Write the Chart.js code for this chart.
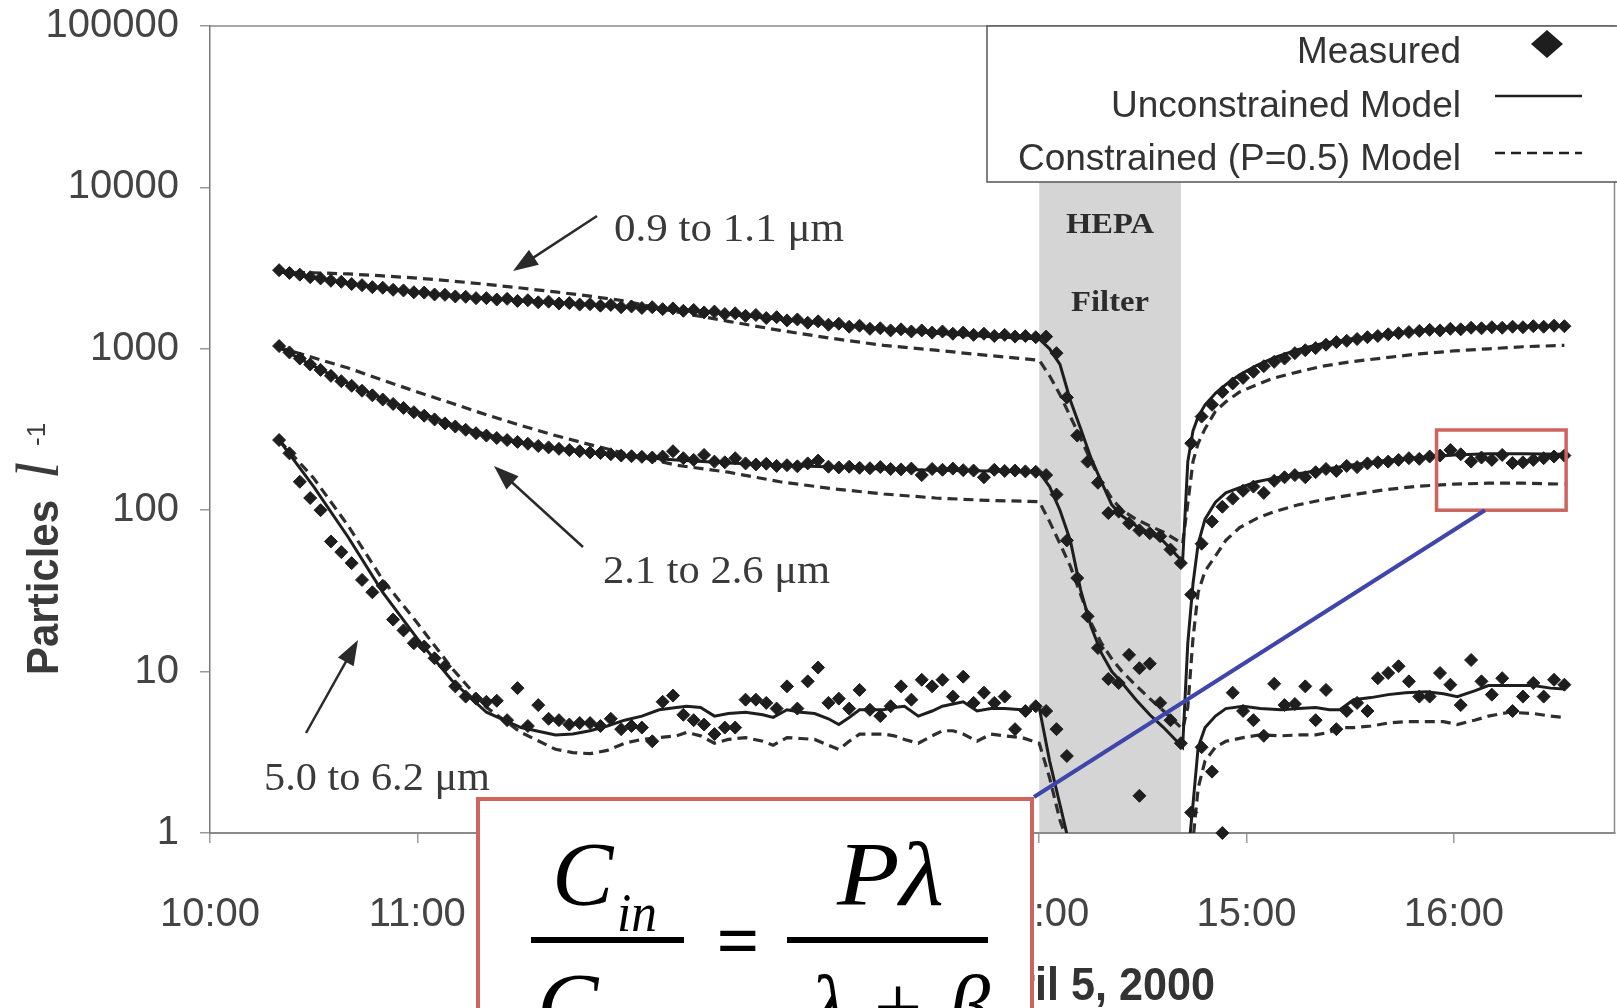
<!DOCTYPE html>
<html>
<head>
<meta charset="utf-8">
<title>Particles, April 5, 2000</title>
<script src="https://cdn.jsdelivr.net/npm/chart.js@4.4.1/dist/chart.umd.min.js"></script>
<style>
  body { margin: 0; background: #fff; overflow: hidden; }
  canvas { display: block; }
</style>
</head>
<body>
<canvas id="particles" width="1622" height="1008"></canvas>
<script>
// x values are minutes after midnight (600 = 10:00)
const hourTicks = [600, 660, 720, 780, 840, 900, 960]
const hourLabels = ['10:00', '11:00', '12:00', '13:00', '14:00', '15:00', '16:00']
const yTicks = [1, 10, 100, 1000, 10000, 100000]
const yTickLabels = ['1', '10', '100', '1000', '10000', '100000']
const hepaOn = 840
const hepaOff = 881

// measured counts, one every 3 minutes
const measuredTimes = [
  620, 623, 626, 629, 632, 635, 638, 641, 644, 647, 650, 653, 656, 659, 662, 665, 668, 671, 674, 677,
  680, 683, 686, 689, 692, 695, 698, 701, 704, 707, 710, 713, 716, 719, 722, 725, 728, 731, 734, 737,
  740, 743, 746, 749, 752, 755, 758, 761, 764, 767, 770, 773, 776, 779, 782, 785, 788, 791, 794, 797,
  800, 803, 806, 809, 812, 815, 818, 821, 824, 827, 830, 833, 836, 839, 842, 845, 848, 851, 854, 857,
  860, 863, 866, 869, 872, 875, 878, 881, 884, 887, 890, 893, 896, 899, 902, 905, 908, 911, 914, 917,
  920, 923, 926, 929, 932, 935, 938, 941, 944, 947, 950, 953, 956, 959, 962, 965, 968, 971, 974, 977,
  980, 983, 986, 989, 992
]
const smallMeasured = [
  3070, 2950, 2880, 2780, 2730, 2640, 2600, 2520, 2480, 2410,
  2390, 2320, 2300, 2240, 2230, 2170, 2160, 2110, 2100, 2060,
  2060, 2020, 2040, 1980, 2000, 1940, 1960, 1910, 1920, 1880,
  1890, 1850, 1870, 1810, 1830, 1790, 1810, 1760, 1780, 1720,
  1740, 1680, 1700, 1640, 1660, 1600, 1620, 1550, 1570, 1500,
  1520, 1450, 1480, 1410, 1430, 1370, 1390, 1330, 1340, 1300,
  1320, 1280, 1300, 1260, 1280, 1240, 1260, 1220, 1240, 1200,
  1220, 1190, 1200, 1180, 1190, 940, 500, 290, 200, 148,
  96, 98, 83, 75, 72, 69, 57, 47, 260, 380,
  450, 540, 610, 660, 720, 780, 830, 870, 940, 980,
  1010, 1060, 1100, 1120, 1150, 1180, 1200, 1230, 1250, 1270,
  1290, 1310, 1300, 1330, 1320, 1350, 1340, 1360, 1350, 1370,
  1360, 1380, 1370, 1390, 1380
]
const midMeasured = [
  1040, 950, 870, 800, 740, 680, 630, 590, 550, 515,
  485, 455, 430, 405, 385, 365, 345, 330, 315, 300,
  290, 280, 272, 265, 258, 250, 245, 240, 236, 232,
  228, 226, 222, 218, 216, 214, 212, 215, 232, 210,
  205, 220, 200, 198, 210, 195, 192, 194, 188, 190,
  187, 195, 203, 186, 184, 186, 183, 182, 185, 180,
  179, 181, 165, 180, 178, 181, 177, 176, 160, 178,
  175, 176, 174, 173, 165, 125, 65, 38, 22, 14,
  9.0, 8.5, 12.7, 10.5, 11.2, 6.4, 5.0, 3.6, 30, 62,
  85, 105, 118, 132, 140, 128, 152, 160, 165, 160,
  172, 180, 175, 188, 185, 195, 198, 200, 205, 210,
  208, 215, 218, 236, 222, 200, 212, 205, 220, 196,
  198, 205, 210, 215, 218
]
const largeMeasured = [
  272, 225, 150, 119, 100, 64, 55, 47, 37, 31,
  34, 21, 18, 15, 14.3, 12.1, 10.8, 8.1, 7.0, 6.8,
  6.5, 6.6, 5.0, 7.9, 4.6, 6.2, 5.1, 5.0, 4.7, 4.8,
  4.8, 4.6, 5.1, 4.4, 4.6, 4.5, 3.7, 6.5, 7.1, 5.4,
  5.0, 4.7, 4.1, 4.5, 4.5, 6.7, 6.7, 6.4, 5.9, 8.1,
  5.9, 8.7, 10.6, 6.4, 6.8, 5.9, 7.7, 5.8, 5.3, 6.1,
  8.1, 6.7, 8.9, 8.1, 8.9, 7.0, 9.3, 6.4, 7.4, 6.4,
  7.0, 4.4, 5.7, 6.1, 5.7, 4.4, 3.0, null, null, null,
  null, null, null, 1.7, null, null, null, null, 1.34, 3.4,
  2.4, 1.0, 7.4, 5.7, 5.0, 4.0, 8.4, 6.2, 6.3, 8.1,
  5.0, 7.7, 4.4, 5.7, 6.4, 5.7, 9.1, 9.8, 10.8, 8.7,
  7.0, 7.0, 9.8, 8.3, 6.2, 11.8, 8.7, 7.2, 9.1, 5.7,
  7.0, 8.5, 7.0, 8.9, 8.3
]

// model curves for 0.9-1.1 and 2.1-2.6 um
const modelTimes = [
  620, 630, 640, 650, 660, 670, 680, 690, 700, 710, 720, 735, 750, 765, 780, 795, 810, 825, 840,
  843, 846, 849, 852, 855, 858, 861, 864, 868, 872, 876, 881.5,
  883, 884.5, 886, 888, 891, 894, 898, 903, 908, 915, 922, 930, 940, 950, 960, 970, 980, 992
]
const smallFree = [
  3000, 2760, 2540, 2370, 2240, 2130, 2050, 1980, 1920, 1870, 1820, 1740, 1640, 1520, 1410, 1320, 1250, 1190, 1150,
  1000, 800, 480, 320, 210, 150, 108, 92, 80, 72, 64, 48,
  200, 310, 380, 450, 530, 600, 690, 790, 880, 990, 1080, 1150, 1230, 1290, 1330, 1360, 1380, 1390
]
const smallFixed = [
  3000, 2960, 2910, 2830, 2740, 2630, 2510, 2380, 2250, 2120, 1980, 1690, 1480, 1300, 1160, 1050, 980, 910, 850,
  680, 520, 380, 280, 200, 150, 118, 100, 88, 80, 73, 62,
  110, 200, 260, 320, 410, 470, 540, 600, 660, 720, 780, 830, 880, 930, 970, 1000, 1030, 1050
]
const midFree = [
  1020, 780, 610, 490, 405, 340, 295, 262, 240, 226, 216, 205, 196, 190, 185, 180, 177, 175, 172,
  140, 100, 65, 32, 19, 13, 10, 8.5, 6.7, 5.4, 4.5, 3.4,
  15, 35, 62, 88, 112, 128, 138, 150, 158, 168, 178, 190, 203, 212, 220, 224, 224, 222
]
const midFixed = [
  1020, 880, 760, 640, 540, 460, 390, 335, 290, 255, 225, 190, 172, 150, 136, 126, 119, 115, 113,
  85, 62, 45, 30, 20, 15, 12, 10, 8.2, 6.8, 5.7, 4.4,
  6, 16, 31, 42, 52, 65, 78, 89, 98, 108, 116, 124, 134, 141, 145, 147, 147, 145
]

// model curves for 5.0-6.2 um (null = curve below the axis)
const largeModelTimes = [
  620, 630, 640, 650, 660, 670, 680, 690, 700, 705, 710, 715, 720, 725, 730, 735, 738, 742, 746, 750,
  755, 760, 763, 767, 771, 775, 779, 782, 785, 788, 792, 795, 798, 801, 805, 809, 812, 815, 818, 822,
  826, 830, 835, 840, 843, 846, 849, 865,
  883.5, 884.5, 886, 888, 891, 894, 899, 904, 910, 915, 920, 924, 927, 931, 936, 941, 946, 952, 957, 961,
  966, 970, 976, 983, 988, 992
]
const largeFree = [
  272, 140, 68, 31, 16, 8.8, 5.6, 4.5, 4.05, 4.1, 4.3, 4.6, 5.0, 5.3, 5.8, 6.0, 6.1, 6.0, 5.3, 5.5,
  5.6, 5.4, 5.2, 5.8, 5.6, 5.5, 5.1, 4.7, 5.2, 5.8, 5.8, 5.8, 6.0, 6.1, 5.3, 5.7, 6.1, 6.3, 6.5, 5.7,
  5.9, 5.9, 5.8, 6.0, 2.8, 1.5, 0.8, null,
  0.9, 1.5, 3.4, 4.5, 5.3, 5.9, 6.1, 5.9, 5.8, 5.9, 6.0, 5.8, 5.8, 6.7, 6.9, 7.2, 7.4, 7.5, 7.3, 7.0,
  7.6, 8.2, 8.2, 8.2, 7.9, 7.8
]
const largeFixed = [
  272, 158, 80, 37, 20, 10.5, 6.0, 4.2, 3.3, 3.15, 3.1, 3.25, 3.6, 3.8, 3.9, 4.0, 4.2, 4.0, 3.6, 3.8,
  3.9, 3.7, 3.5, 3.9, 3.85, 3.8, 3.5, 3.3, 3.7, 4.1, 4.1, 4.1, 4.0, 3.8, 3.6, 4.0, 4.3, 4.3, 4.1, 3.7,
  4.1, 4.0, 3.9, 3.6, 2.2, 1.2, 0.8, null,
  0.4, 0.9, 1.9, 2.8, 3.4, 3.7, 3.9, 4.06, 4.0, 4.05, 4.06, 4.2, 4.5, 4.5, 4.6, 4.8, 4.9, 4.9, 4.9, 4.7,
  5.0, 5.3, 5.6, 5.5, 5.3, 5.2
]

const sizeLabels = ['0.9 to 1.1 \u03bcm', '2.1 to 2.6 \u03bcm', '5.0 to 6.2 \u03bcm']
const legendLabels = ['Measured', 'Unconstrained Model', 'Constrained (P=0.5) Model']

const ink = '#1e1e1e'
const boxRed = '#cd645d'
const lineBlue = '#3e45ab'
const serif = '"Liberation Serif", "Times New Roman", serif'
const sans = '"Liberation Sans", Arial, sans-serif'

function hasFont(name) {
  let c = document.createElement('canvas').getContext('2d')
  c.font = '80px monospace'
  let base = c.measureText('100000 Particles').width
  c.font = '80px "' + name + '", monospace'
  return c.measureText('100000 Particles').width !== base
}
const narrow = hasFont('Liberation Sans Narrow')
const tickFamily = narrow ? '"Liberation Sans Narrow", ' + sans : sans
const tickSize = narrow ? 47 : 40

function pts(times, values) {
  return times.map((t, i) => ({ x: t, y: values[i] }))
}

// text squeezed or stretched horizontally to a given width
function text(ctx, str, x, y, font, width, align) {
  ctx.save()
  ctx.font = font
  let w = ctx.measureText(str).width
  ctx.translate(x, y)
  if (width) ctx.scale(width / w, 1)
  ctx.textAlign = align || 'left'
  ctx.textBaseline = 'alphabetic'
  ctx.fillText(str, 0, 0)
  ctx.restore()
}

function arrow(ctx, x1, y1, x2, y2) {
  let a = Math.atan2(y2 - y1, x2 - x1)
  let len = 25, half = 9
  let c = Math.cos(a), s = Math.sin(a)
  ctx.beginPath()
  ctx.moveTo(x1, y1)
  ctx.lineTo(x2 - c * len * 0.7, y2 - s * len * 0.7)
  ctx.stroke()
  ctx.beginPath()
  ctx.moveTo(x2, y2)
  ctx.lineTo(x2 - c * len - s * half, y2 - s * len + c * half)
  ctx.lineTo(x2 - c * len + s * half, y2 - s * len - c * half)
  ctx.closePath()
  ctx.fill()
}

// keep the plot area where the figure has it, whatever the label overhang
function noOverhang(s) {
  s.paddingTop = 0
  s.paddingBottom = 0
  s.paddingLeft = 0
  s.paddingRight = 0
}

const hepaBand = {
  id: 'hepaBand',
  beforeDatasetsDraw(chart) {
    let { ctx, chartArea, scales } = chart
    let x1 = scales.x.getPixelForValue(hepaOn)
    let x2 = scales.x.getPixelForValue(hepaOff)
    ctx.save()
    ctx.fillStyle = '#d5d5d5'
    ctx.fillRect(x1, chartArea.top, x2 - x1, chartArea.bottom - chartArea.top - 1)
    ctx.restore()
  }
}

const decorations = {
  id: 'decorations',
  afterDraw(chart) {
    let { ctx, chartArea, scales } = chart
    let xs = scales.x, ys = scales.y
    ctx.save()

    // frame top and right
    ctx.strokeStyle = '#8a8a8a'
    ctx.lineWidth = 1.5
    ctx.beginPath()
    ctx.moveTo(chartArea.left, chartArea.top)
    ctx.lineTo(chartArea.right, chartArea.top)
    ctx.lineTo(chartArea.right, chartArea.bottom)
    ctx.stroke()

    // size bin labels with arrows
    ctx.fillStyle = '#3a3a3a'
    text(ctx, sizeLabels[0], 614, 241, '40px ' + serif, 230)
    text(ctx, sizeLabels[1], 603, 583, '40px ' + serif, 227)
    text(ctx, sizeLabels[2], 264, 790, '40px ' + serif, 226)
    ctx.strokeStyle = '#2a2a2a'
    ctx.fillStyle = '#2a2a2a'
    ctx.lineWidth = 2.5
    arrow(ctx, 597, 216, 513, 271)
    arrow(ctx, 583, 547, 494, 466)
    arrow(ctx, 306, 733, 358, 640)

    // HEPA filter label
    let hx = (xs.getPixelForValue(hepaOn) + xs.getPixelForValue(hepaOff)) / 2
    ctx.fillStyle = '#2c2c2c'
    text(ctx, 'HEPA', hx, 233, 'bold 30px ' + serif, 88, 'center')
    text(ctx, 'Filter', hx, 311, 'bold 30px ' + serif, 78, 'center')

    // legend
    ctx.fillStyle = '#fff'
    ctx.fillRect(987, chartArea.top, 640, 182 - chartArea.top)
    ctx.strokeStyle = '#555'
    ctx.lineWidth = 1.5
    ctx.strokeRect(987, chartArea.top, 640, 182 - chartArea.top)
    ctx.fillStyle = '#333'
    text(ctx, legendLabels[0], 1461, 63, '37px ' + sans, 164, 'right')
    text(ctx, legendLabels[1], 1461, 117, '37px ' + sans, 350, 'right')
    text(ctx, legendLabels[2], 1461, 170, '37px ' + sans, 443, 'right')
    ctx.fillStyle = ink
    ctx.beginPath()
    ctx.moveTo(1531, 44)
    ctx.lineTo(1547, 30)
    ctx.lineTo(1563, 44)
    ctx.lineTo(1547, 58)
    ctx.closePath()
    ctx.fill()
    ctx.strokeStyle = ink
    ctx.lineWidth = 2.5
    ctx.beginPath()
    ctx.moveTo(1495, 96)
    ctx.lineTo(1582, 96)
    ctx.stroke()
    ctx.setLineDash([10, 6])
    ctx.beginPath()
    ctx.moveTo(1495, 153)
    ctx.lineTo(1582, 153)
    ctx.stroke()
    ctx.setLineDash([])

    // highlighted region and pointer to the formula
    let bx1 = xs.getPixelForValue(955), bx2 = xs.getPixelForValue(992.5)
    let by1 = ys.getPixelForValue(314), by2 = ys.getPixelForValue(100)
    ctx.strokeStyle = boxRed
    ctx.lineWidth = 3.5
    ctx.strokeRect(bx1, by1, bx2 - bx1, by2 - by1)
    ctx.strokeStyle = lineBlue
    ctx.lineWidth = 4
    ctx.beginPath()
    ctx.moveTo(1034, 797)
    ctx.lineTo(xs.getPixelForValue(969), by2)
    ctx.stroke()

    // x axis title
    ctx.fillStyle = '#333'
    ctx.font = 'bold 46px ' + sans
    let sx = 180 / ctx.measureText('il 5, 2000').width
    ctx.translate(1215, 1000)
    ctx.scale(sx, 1)
    ctx.textAlign = 'right'
    ctx.fillText('April 5, 2000', 0, 0)
    ctx.setTransform(1, 0, 0, 1, 0, 0)

    // y axis title
    ctx.translate(58, 675)
    ctx.rotate(-Math.PI / 2)
    ctx.fillStyle = '#3a3a3a'
    text(ctx, 'Particles', 0, 0, 'bold 45px ' + sans, 175)
    text(ctx, 'l', 196, 0, 'italic 62px ' + serif)
    text(ctx, '-1', 229, -13, '26px ' + sans)
    ctx.setTransform(1, 0, 0, 1, 0, 0)

    // formula box
    ctx.fillStyle = '#fff'
    ctx.fillRect(476, 797, 558, 220)
    ctx.strokeStyle = boxRed
    ctx.lineWidth = 4
    ctx.strokeRect(478, 799, 554, 240)
    ctx.fillStyle = '#000'
    text(ctx, 'C', 552, 905, 'italic 92px ' + serif)
    text(ctx, 'in', 617, 931, 'italic 54px ' + serif, 40)
    ctx.fillRect(531, 937, 153, 6)
    text(ctx, '=', 738, 966, 'bold 76px ' + serif, 43, 'center')
    ctx.fillRect(787, 937, 201, 6)
    text(ctx, 'P\u03bb', 837, 905, 'italic 92px ' + serif, 107)
    text(ctx, 'C', 537, 1036, 'italic 92px ' + serif)
    text(ctx, 'out', 600, 1062, 'italic 50px ' + serif)
    text(ctx, '\u03bb + \u03b2', 810, 1038, 'italic 92px ' + serif, 180)

    ctx.restore()
  }
}

const measuredStyle = {
  showLine: false,
  pointStyle: 'rectRot',
  pointRadius: 6.5,
  pointHoverRadius: 6.5,
  pointBackgroundColor: ink,
  pointBorderColor: ink,
  pointBorderWidth: 1,
  borderColor: ink,
  clip: 10,
  order: 0
}
const freeStyle = {
  borderColor: '#1e1e1e',
  borderWidth: 3,
  pointRadius: 0,
  fill: false,
  order: 1
}
const fixedStyle = {
  borderColor: '#2e2e2e',
  borderWidth: 3.2,
  borderDash: [10, 6],
  pointRadius: 0,
  fill: false,
  order: 2
}

let ctx = document.getElementById('particles')
let chart = new Chart(ctx, {
  type: 'line',
  data: {
    datasets: [
      { label: 'Measured 0.9-1.1', data: pts(measuredTimes, smallMeasured), ...measuredStyle },
      { label: 'Measured 2.1-2.6', data: pts(measuredTimes, midMeasured), ...measuredStyle },
      { label: 'Measured 5.0-6.2', data: pts(measuredTimes, largeMeasured), ...measuredStyle },
      { label: 'Unconstrained 0.9-1.1', data: pts(modelTimes, smallFree), ...freeStyle },
      { label: 'Unconstrained 2.1-2.6', data: pts(modelTimes, midFree), ...freeStyle },
      { label: 'Unconstrained 5.0-6.2', data: pts(largeModelTimes, largeFree), ...freeStyle },
      { label: 'Constrained 0.9-1.1', data: pts(modelTimes, smallFixed), ...fixedStyle },
      { label: 'Constrained 2.1-2.6', data: pts(modelTimes, midFixed), ...fixedStyle },
      { label: 'Constrained 5.0-6.2', data: pts(largeModelTimes, largeFixed), ...fixedStyle }
    ]
  },
  options: {
    responsive: false,
    animation: false,
    events: [],
    layout: { padding: { top: 26, right: 2, left: 0, bottom: 0 } },
    plugins: {
      legend: { display: false },
      tooltip: { enabled: false }
    },
    scales: {
      x: {
        type: 'linear',
        min: 600,
        max: 1006.5,
        afterBuildTicks: s => { s.ticks = hourTicks.map(v => ({ value: v })) },
        afterFit: s => { s.height = 175; noOverhang(s) },
        grid: { drawOnChartArea: false, tickLength: 10, color: '#9a9a9a', lineWidth: 1.5 },
        border: { color: '#8a8a8a', width: 2 },
        ticks: {
          color: '#444',
          font: { family: tickFamily, size: tickSize },
          padding: narrow ? 44 : 48,
          maxRotation: 0,
          autoSkip: false,
          callback: (v, i) => hourLabels[i]
        }
      },
      y: {
        type: 'logarithmic',
        min: 1,
        max: 100000,
        afterBuildTicks: s => { s.ticks = yTicks.map(v => ({ value: v })) },
        afterFit: s => { s.width = 210; noOverhang(s) },
        grid: { drawOnChartArea: false, tickLength: 10, color: '#9a9a9a', lineWidth: 1.5 },
        border: { color: '#7a7a7a', width: 1.5 },
        ticks: {
          color: '#444',
          font: { family: tickFamily, size: tickSize, lineHeight: 1 },
          padding: 21,
          autoSkip: false,
          callback: (v, i) => yTickLabels[i]
        }
      }
    }
  },
  plugins: [hepaBand, decorations]
})
</script>
</body>
</html>
